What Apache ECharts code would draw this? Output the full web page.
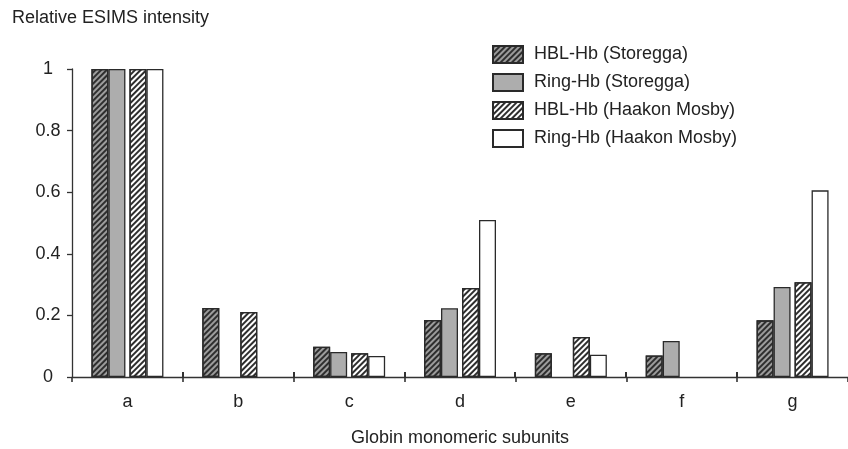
<!DOCTYPE html>
<html><head><meta charset="utf-8">
<script src="https://cdn.jsdelivr.net/npm/echarts@6/dist/echarts.min.js"></script>
<style>html,body{margin:0;padding:0;background:#fff}#c{width:848px;height:449px}</style>
</head><body><div id="c"></div>
<script>
var categories = ['a','b','c','d','e','f','g'];
var seriesNames = ['HBL-Hb (Storegga)','Ring-Hb (Storegga)','HBL-Hb (Haakon Mosby)','Ring-Hb (Haakon Mosby)'];
var hblStoregga = [1.0, 0.224, 0.098, 0.185, 0.077, 0.070, 0.184];
var ringStoregga = [1.0, null, 0.081, 0.223, null, 0.117, 0.292];
var hblHaakon = [1.0, 0.211, 0.077, 0.289, 0.130, null, 0.308];
var ringHaakon = [1.0, null, 0.068, 0.510, 0.072, null, 0.606];
var yTicks = [0, 0.2, 0.4, 0.6, 0.8, 1];

var font = 'Liberation Sans, Arial, sans-serif';
var border = {borderColor:'#2a2a2a', borderWidth:1.3};
function hatch(lineColor, w, gap){
  return {symbol:'rect', symbolSize:1, dashArrayX:[1,0], dashArrayY:[w,gap], rotation:-Math.PI/4, color:lineColor};
}
var chart = echarts.init(document.getElementById('c'), null, {renderer:'canvas'});
chart.setOption({
  animation:false,
  backgroundColor:'#fff',
  title:{text:'Relative ESIMS intensity', left:7, top:4, textStyle:{fontFamily:font, fontSize:18, fontWeight:'normal', color:'#222'}},
  legend:{
    data:seriesNames, orient:'vertical', left:487, top:40, itemWidth:30, itemHeight:17, itemGap:9,
    icon:'rect',
    textStyle:{fontFamily:font, fontSize:18, color:'#222', padding:[0,0,0,6]}
  },
  grid:{left:72, right:0, top:69, bottom:72, outerBoundsMode:'none', containLabel:false},
  xAxis:{type:'category', data:categories,
     name:'Globin monomeric subunits', nameLocation:'middle', nameGap:52,
     nameTextStyle:{fontFamily:font, fontSize:18, color:'#222'},
     axisLine:{lineStyle:{color:'#333', width:1.3}},
     axisTick:{show:true, length:5, lineStyle:{color:'#333', width:1.6}},
     axisLabel:{fontFamily:font, fontSize:18, color:'#222', margin:16}},
  yAxis:{type:'value', min:0, max:1, interval:0.2,
     axisLine:{show:true, lineStyle:{color:'#333', width:1.3}},
     axisTick:{show:true, length:5, lineStyle:{color:'#333', width:1.3}},
     splitLine:{show:false},
     axisLabel:{fontFamily:font, fontSize:18, color:'#222', margin:24, align:'center',
       formatter:function(v){ for (var i=0;i<yTicks.length;i++){ if (Math.abs(yTicks[i]-v)<1e-9) return String(yTicks[i]); } return ''; }}},
  series:[
    {name:seriesNames[0], type:'bar', data:hblStoregga, barWidth:17, barGap:0, barCategoryGap:0,
     itemStyle:Object.assign({color:'#9c9c9c', decal:hatch('#2e2e2e',1.3,1.7)}, border)},
    {name:seriesNames[1], type:'bar', data:ringStoregga, barWidth:17, barGap:0,
     itemStyle:Object.assign({color:'#adadad'}, border)},
    {name:'_gap', type:'bar', data:[], barWidth:4, barGap:0},
    {name:seriesNames[2], type:'bar', data:hblHaakon, barWidth:17, barGap:0,
     itemStyle:Object.assign({color:'#ffffff', decal:hatch('#2e2e2e',1.3,1.7)}, border)},
    {name:seriesNames[3], type:'bar', data:ringHaakon, barWidth:17, barGap:0,
     itemStyle:Object.assign({color:'#ffffff'}, border)}
  ]
});
// inner halves of the category-boundary ticks (ticks cross the axis in the reference)
var c0 = chart.convertToPixel({xAxisIndex:0}, categories[0]);
var c1 = chart.convertToPixel({xAxisIndex:0}, categories[1]);
var y0 = chart.convertToPixel({yAxisIndex:0}, 0);
var band = c1 - c0;
var tickEls = [];
for (var i = 1; i < categories.length; i++) {
  var x = c0 - band/2 + i*band;
  tickEls.push({type:'rect', silent:true, z:100, left:Math.round(x-1), top:Math.round(y0-5), shape:{width:2, height:5}, style:{fill:'#333'}});
}
chart.setOption({graphic:{elements:tickEls}});
</script></body></html>
